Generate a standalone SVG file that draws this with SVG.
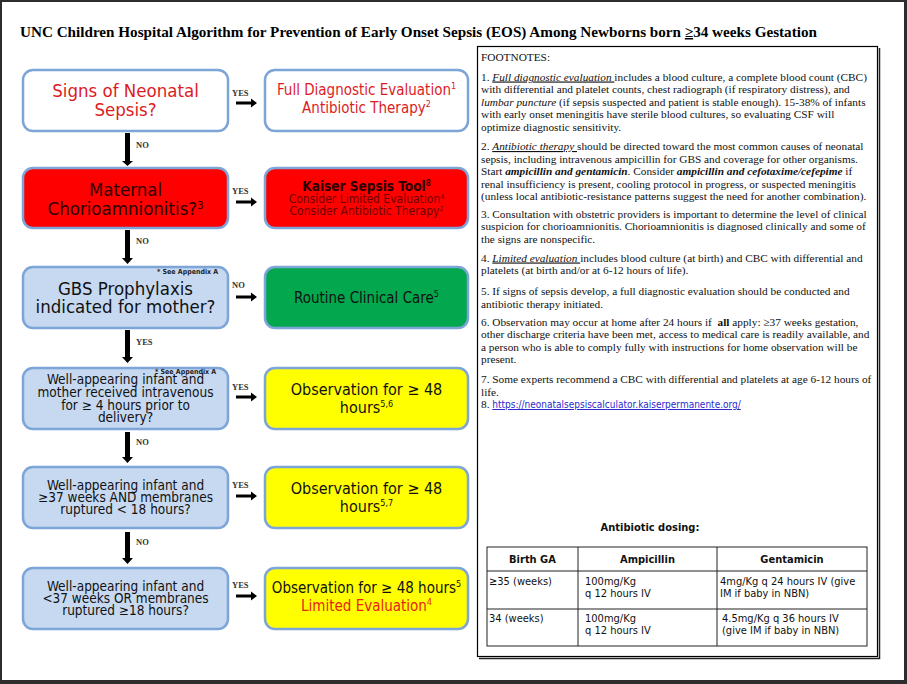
<svg xmlns="http://www.w3.org/2000/svg" width="907" height="684" viewBox="0 0 907 684">
<style>
.box{stroke:#7ea5d7;stroke-width:2.5}
.bl{fill:#c6d9f1}.wh{fill:#fff}.rd{fill:#fe0000}.gr{fill:#02a74e}.ye{fill:#ffff00}
.t{font-family:"DejaVu Sans Condensed","DejaVu Sans",sans-serif;font-stretch:condensed;text-anchor:middle}
.big{font-size:18.5px}
.mid{font-size:15px}
.sm{font-size:13.5px}
.lab{font-family:"Liberation Serif",serif;font-size:8.5px;font-weight:bold;fill:#333}
.app{font-family:"DejaVu Sans Condensed","DejaVu Sans",sans-serif;font-stretch:condensed;font-size:7px;font-weight:bold;fill:#222}
.fn{font-family:"Liberation Serif",serif;font-size:11.3px;fill:#111}
.tb{font-family:"DejaVu Sans Condensed","DejaVu Sans",sans-serif;font-stretch:condensed;font-size:11px;fill:#111}
.arr{fill:#000}
</style>
<rect x="0" y="0" width="907" height="684" fill="#2d2d2d"/>
<rect x="2" y="2" width="902" height="678" fill="#fff"/>
<text x="20" y="37" font-family="Liberation Serif,serif" font-size="15px" font-weight="bold" fill="#000" textLength="797" lengthAdjust="spacingAndGlyphs">UNC Children Hospital Algorithm for Prevention of Early Onset Sepsis (EOS) Among Newborns born  <tspan text-decoration="underline">≥</tspan>34 weeks Gestation</text>

<g id="connectors">
  <polygon class="arr" points="125,133 130,133 130,161 133,161 127.5,166 122,161 125,161"/>
  <polygon class="arr" points="125,230 130,230 130,258 133,258 127.5,264 122,258 125,258"/>
  <polygon class="arr" points="125,330 130,330 130,357 133,357 127.5,363 122,357 125,357"/>
  <polygon class="arr" points="125,432 130,432 130,457 133,457 127.5,463 122,457 125,457"/>
  <polygon class="arr" points="125,532 130,532 130,558 133,558 127.5,564 122,558 125,558"/>
  <polygon class="arr" points="236,101.5 251,101.5 251,98.5 257,103 251,107.5 251,104.5 236,104.5"/>
  <polygon class="arr" points="236,200.5 251,200.5 251,197.5 257,202 251,206.5 251,203.5 236,203.5"/>
  <polygon class="arr" points="236,295.5 251,295.5 251,292.5 257,297 251,301.5 251,298.5 236,298.5"/>
  <polygon class="arr" points="236,395.5 251,395.5 251,392.5 257,397 251,401.5 251,398.5 236,398.5"/>
  <polygon class="arr" points="236,494.5 251,494.5 251,491.5 257,496 251,500.5 251,497.5 236,497.5"/>
  <polygon class="arr" points="236,594.5 251,594.5 251,591.5 257,596 251,600.5 251,597.5 236,597.5"/>
  <text class="lab" x="232" y="96">YES</text>
  <text class="lab" x="232" y="194">YES</text>
  <text class="lab" x="232" y="288">NO</text>
  <text class="lab" x="232" y="390">YES</text>
  <text class="lab" x="232" y="488">YES</text>
  <text class="lab" x="232" y="588">YES</text>
  <text class="lab" x="136" y="148">NO</text>
  <text class="lab" x="136" y="244">NO</text>
  <text class="lab" x="136" y="345">YES</text>
  <text class="lab" x="136" y="445">NO</text>
  <text class="lab" x="136" y="545">NO</text>
</g>

<g id="n1">
  <rect class="box wh" x="23" y="70" width="205" height="61" rx="10"/>
  <text class="t big" fill="#dc1c24"><tspan x="125.5" y="97">Signs of Neonatal</tspan><tspan x="125.5" y="116">Sepsis?</tspan></text>
</g>
<g id="n1y">
  <rect class="box wh" x="265" y="70" width="203" height="61" rx="10"/>
  <text class="t mid" fill="#dc1c24"><tspan x="366.5" y="95">Full Diagnostic Evaluation<tspan font-size="9" dy="-6">1</tspan></tspan><tspan x="366.5" y="113">Antibiotic Therapy<tspan font-size="9" dy="-6">2</tspan></tspan></text>
</g>
<g id="n2">
  <rect class="box rd" x="23" y="168" width="205" height="60" rx="10"/>
  <text class="t big" fill="#2a0000"><tspan x="125.5" y="196">Maternal</tspan><tspan x="125.5" y="215">Chorioamnionitis?<tspan font-size="11" dy="-6">3</tspan></tspan></text>
</g>
<g id="n2y">
  <rect class="box rd" x="265" y="168" width="203" height="60" rx="10"/>
  <text class="t" font-size="13.5" font-weight="bold" fill="#2a0000"><tspan x="366.5" y="191">Kaiser Sepsis Tool<tspan font-size="8" dy="-5">8</tspan></tspan></text>
  <text class="t" font-size="12" fill="#6e0000"><tspan x="366.5" y="203">Consider Limited Evaluation<tspan font-size="7" dy="-4">4</tspan></tspan><tspan x="366.5" y="215">Consider Antibiotic Therapy<tspan font-size="7" dy="-4">2</tspan></tspan></text>
</g>
<g id="n3">
  <rect class="box bl" x="23" y="267" width="205" height="61" rx="10"/>
  <text class="app" x="157" y="274">* See Appendix A</text>
  <text class="t big" fill="#111"><tspan x="125.5" y="295">GBS Prophylaxis</tspan><tspan x="125.5" y="313">indicated for mother?</tspan></text>
</g>
<g id="n3n">
  <rect class="box gr" x="265" y="267" width="203" height="61" rx="10"/>
  <text class="t mid" fill="#111"><tspan x="366.5" y="303">Routine Clinical Care<tspan font-size="9" dy="-6">5</tspan></tspan></text>
</g>
<g id="n4">
  <rect class="box bl" x="23" y="368" width="205" height="61" rx="10"/>
  <text class="app" x="155" y="374">* See Appendix A</text>
  <text class="t sm" fill="#111"><tspan x="125.5" y="384">Well-appearing infant and</tspan><tspan x="125.5" y="397">mother received intravenous</tspan><tspan x="125.5" y="409.5">for ≥ 4 hours prior to</tspan><tspan x="125.5" y="421.5">delivery?</tspan></text>
</g>
<g id="n4y">
  <rect class="box ye" x="265" y="368" width="203" height="61" rx="10"/>
  <text class="t" font-size="16" fill="#111"><tspan x="366.5" y="395">Observation for ≥ 48</tspan><tspan x="366.5" y="413">hours<tspan font-size="9" dy="-6">5,6</tspan></tspan></text>
</g>
<g id="n5">
  <rect class="box bl" x="23" y="467" width="205" height="61" rx="10"/>
  <text class="t sm" fill="#111"><tspan x="125.5" y="490">Well-appearing infant and</tspan><tspan x="125.5" y="502">≥37 weeks AND membranes</tspan><tspan x="125.5" y="514">ruptured &lt; 18 hours?</tspan></text>
</g>
<g id="n5y">
  <rect class="box ye" x="265" y="467" width="203" height="61" rx="10"/>
  <text class="t" font-size="16" fill="#111"><tspan x="366.5" y="494">Observation for ≥ 48</tspan><tspan x="366.5" y="512">hours<tspan font-size="9" dy="-6">5,7</tspan></tspan></text>
</g>
<g id="n6">
  <rect class="box bl" x="23" y="568" width="205" height="61" rx="10"/>
  <text class="t sm" fill="#111"><tspan x="125.5" y="591">Well-appearing infant and</tspan><tspan x="125.5" y="603">&lt;37 weeks OR membranes</tspan><tspan x="125.5" y="615">ruptured ≥18 hours?</tspan></text>
</g>
<g id="n6y">
  <rect class="box ye" x="265" y="568" width="203" height="61" rx="10"/>
  <text class="t" font-size="15" fill="#111"><tspan x="366.5" y="593">Observation for ≥ 48 hours<tspan font-size="9" dy="-6">5</tspan></tspan></text>
  <text class="t" font-size="15" fill="#e8221b"><tspan x="366.5" y="611">Limited Evaluation<tspan font-size="9" dy="-6">4</tspan></tspan></text>
</g>

<g id="footnotes">
  <rect x="477.5" y="46.5" width="400" height="610" fill="#fff" stroke="#000" stroke-width="1.2"/>
  <path d="M879.5 48 V658.5 H479" fill="none" stroke="#222" stroke-width="1.5"/>
  <text class="fn" x="481" y="61">FOOTNOTES:</text>
  <text class="fn" x="481" y="80.5">1. <tspan font-style="italic" text-decoration="underline">Full diagnostic evaluation </tspan>includes a blood culture, a complete blood count (CBC)</text>
  <text class="fn" x="481" y="93">with differential and platelet counts, chest radiograph (if respiratory distress), and</text>
  <text class="fn" x="481" y="105.5"><tspan font-style="italic">lumbar puncture</tspan> (if sepsis suspected and patient is stable enough). 15-38% of infants</text>
  <text class="fn" x="481" y="118">with early onset meningitis have sterile blood cultures, so evaluating CSF will</text>
  <text class="fn" x="481" y="130.5">optimize diagnostic sensitivity.</text>
  <text class="fn" x="481" y="150">2. <tspan font-style="italic" text-decoration="underline">Antibiotic therapy </tspan>should be directed toward the most common causes of neonatal</text>
  <text class="fn" x="481" y="162.5">sepsis, including intravenous ampicillin for GBS and coverage for other organisms.</text>
  <text class="fn" x="481" y="175">Start <tspan font-style="italic" font-weight="bold">ampicillin and gentamicin</tspan>. Consider <tspan font-style="italic" font-weight="bold">ampicillin and cefotaxime/cefepime</tspan> if</text>
  <text class="fn" x="481" y="187.5">renal insufficiency is present, cooling protocol in progress, or suspected meningitis</text>
  <text class="fn" x="481" y="200">(unless local antibiotic-resistance patterns suggest the need for another combination).</text>
  <text class="fn" x="481" y="217.5">3. Consultation with obstetric providers is important to determine the level of clinical</text>
  <text class="fn" x="481" y="230">suspicion for chorioamnionitis. Chorioamnionitis is diagnosed clinically and some of</text>
  <text class="fn" x="481" y="242.5">the signs are nonspecific.</text>
  <text class="fn" x="481" y="261.5">4. <tspan font-style="italic" text-decoration="underline">Limited evaluation </tspan>includes blood culture (at birth) and CBC with differential and</text>
  <text class="fn" x="481" y="274">platelets (at birth and/or at 6-12 hours of life).</text>
  <text class="fn" x="481" y="295">5. If signs of sepsis develop, a full diagnostic evaluation should be conducted and</text>
  <text class="fn" x="481" y="307.5">antibiotic therapy initiated.</text>
  <text class="fn" x="481" y="325.5" xml:space="preserve">6. Observation may occur at home after 24 hours if  <tspan font-weight="bold">all</tspan> apply: ≥37 weeks gestation,</text>
  <text class="fn" x="481" y="338">other discharge criteria have been met, access to medical care is readily available, and</text>
  <text class="fn" x="481" y="350.5">a person who is able to comply fully with instructions for home observation will be</text>
  <text class="fn" x="481" y="363">present.</text>
  <text class="fn" x="481" y="383">7. Some experts recommend a CBC with differential and platelets at age 6-12 hours of</text>
  <text class="fn" x="481" y="395.5">life.</text>
  <text class="fn" x="481" y="408">8. <tspan font-family="DejaVu Sans Condensed,DejaVu Sans,sans-serif" font-stretch="condensed" font-size="10" fill="#2a2ad0" text-decoration="underline">https://neonatalsepsiscalculator.kaiserpermanente.org/</tspan></text>
</g>

<g id="dosing">
  <text class="tb" x="650" y="531" font-size="14.5" font-weight="bold" text-anchor="middle">Antibiotic dosing:</text>
  <rect x="487" y="547" width="380" height="99" fill="none" stroke="#222" stroke-width="1"/>
  <path d="M487 571H867M487 609H867M578 547V646M717 547V646" stroke="#222" stroke-width="1" fill="none"/>
  <text class="tb" x="532.5" y="563" font-weight="bold" text-anchor="middle">Birth GA</text>
  <text class="tb" x="647.5" y="563" font-weight="bold" text-anchor="middle">Ampicillin</text>
  <text class="tb" x="792" y="563" font-weight="bold" text-anchor="middle">Gentamicin</text>
  <text class="tb" x="489" y="585">≥35 (weeks)</text>
  <text class="tb"><tspan x="585" y="585">100mg/Kg</tspan><tspan x="585" y="597">q 12 hours IV</tspan></text>
  <text class="tb"><tspan x="720" y="585">4mg/Kg q 24 hours IV (give</tspan><tspan x="720" y="597">IM if baby in NBN)</tspan></text>
  <text class="tb" x="489" y="622">34 (weeks)</text>
  <text class="tb"><tspan x="585" y="622">100mg/Kg</tspan><tspan x="585" y="634">q 12 hours IV</tspan></text>
  <text class="tb"><tspan x="722" y="622">4.5mg/Kg q 36 hours IV</tspan><tspan x="722" y="634">(give IM if baby in NBN)</tspan></text>
</g>
</svg>
